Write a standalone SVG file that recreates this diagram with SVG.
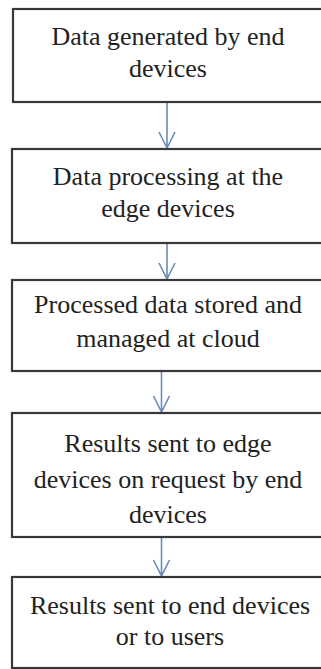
<svg xmlns="http://www.w3.org/2000/svg" width="321" height="669" viewBox="0 0 321 669">
<defs>
<style>
.box{fill:#fff;stroke:#383838;stroke-width:2.2}
.lbl{font-size:26px;fill:#222;text-anchor:middle;font-family:'Liberation Serif',serif !important}
.c{stroke:#6a8bbd;stroke-width:1.6;fill:none}
</style>
</defs>
<rect width="321" height="669" fill="#fff"/>
<g id="connectors">
<path class="c" d="M167 103V148M159 132L167 148L175 132"/>
<path class="c" d="M167 244V279M159 263L167 279L175 263"/>
<path class="c" d="M161.5 372V412M153.5 396L161.5 412L169.5 396"/>
<path class="c" d="M161.5 538V576M153.5 560L161.5 576L169.5 560"/>
</g>
<g id="n1">
<rect class="box" x="13" y="9" width="314" height="93"/>
<text class="lbl" style="font-family:'Liberation Serif',serif" x="168" y="45">Data generated by end</text><text class="lbl" style="font-family:'Liberation Serif',serif" x="168" y="77">devices</text>
</g>
<g id="n2">
<rect class="box" x="12" y="149" width="315" height="94"/>
<text class="lbl" style="font-family:'Liberation Serif',serif" x="168" y="185">Data processing at the</text><text class="lbl" style="font-family:'Liberation Serif',serif" x="168" y="217">edge devices</text>
</g>
<g id="n3">
<rect class="box" x="12" y="280" width="315" height="91"/>
<text class="lbl" style="font-family:'Liberation Serif',serif" x="168" y="313">Processed data stored and</text><text class="lbl" style="font-family:'Liberation Serif',serif" x="168" y="347">managed at cloud</text>
</g>
<g id="n4">
<rect class="box" x="12" y="413" width="315" height="124"/>
<text class="lbl" style="font-family:'Liberation Serif',serif" x="168" y="452">Results sent to edge</text><text class="lbl" style="font-family:'Liberation Serif',serif" x="168" y="488">devices on request by end</text><text class="lbl" style="font-family:'Liberation Serif',serif" x="168" y="523">devices</text>
</g>
<g id="n5">
<rect class="box" x="12" y="577" width="315" height="91"/>
<text class="lbl" style="font-family:'Liberation Serif',serif" x="170" y="614">Results sent to end devices</text><text class="lbl" style="font-family:'Liberation Serif',serif" x="170" y="645">or to users</text>
</g>
</svg>
